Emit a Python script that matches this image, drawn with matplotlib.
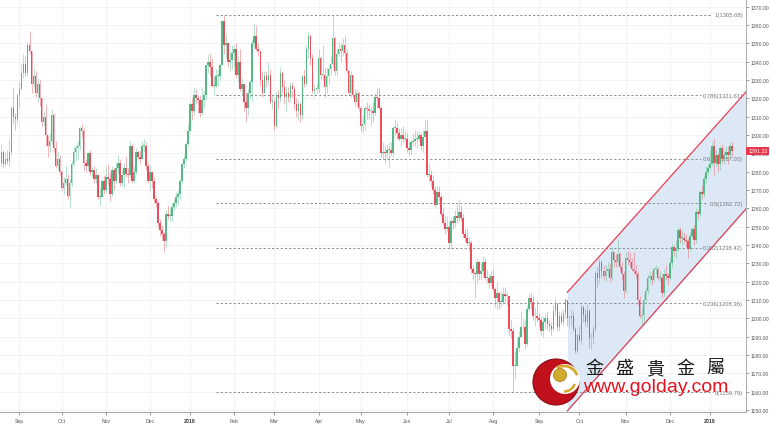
import numpy as np
import pandas as pd
import matplotlib
matplotlib.use("Agg")
import matplotlib.pyplot as plt
from matplotlib.patches import Circle, Arc
from matplotlib.transforms import IdentityTransform


# ============================================================
# Data: daily gold candles, Aug 2017 - Jan 2019
# ============================================================

holidays = ["2017-12-25", "2018-01-01", "2018-12-25", "2019-01-01"]
dates = pd.bdate_range("2017-08-21", "2019-01-17")
dates = dates[~dates.isin(pd.to_datetime(holidays))]

first_open = 1285.0

close = [
    1291, 1284, 1287, 1286, 1291, 1315, 1310, 1309, 1322,
    1325, 1334, 1339, 1334, 1349, 1346, 1328, 1332, 1323, 1328, 1320, 1307, 1310, 1300, 1294, 1297, 1311, 1293, 1283, 1287, 1280,
    1271, 1274, 1276, 1267, 1274, 1284, 1291, 1293, 1294, 1304, 1302, 1285, 1283, 1290, 1280, 1281, 1276, 1278, 1266, 1266, 1275, 1270,
    1277, 1276, 1268, 1281, 1275, 1282, 1285, 1274, 1278, 1282, 1279, 1278, 1294, 1275, 1280, 1291, 1288, 1287, 1294, 1294, 1283, 1275,
    1280, 1275, 1265, 1263, 1252, 1248, 1246, 1242, 1257, 1256, 1256, 1261, 1263, 1266, 1268, 1275, 1284, 1287, 1295, 1302,
    1317, 1313, 1322, 1320, 1319, 1312, 1319, 1322, 1338, 1340, 1337, 1327, 1327, 1332, 1332, 1338, 1362, 1349, 1350, 1340, 1341, 1345,
    1347, 1333, 1340, 1325, 1328, 1318, 1315, 1323, 1329, 1350, 1354, 1347, 1346, 1330, 1323, 1332, 1330, 1333, 1318, 1318,
    1305, 1322, 1320, 1334, 1326, 1321, 1323, 1321, 1327, 1325, 1317, 1313, 1317, 1311, 1332, 1328, 1347, 1354, 1342, 1324, 1325, 1325,
    1342, 1333, 1333, 1326, 1332, 1336, 1339, 1353, 1335, 1344, 1347, 1346, 1349, 1345, 1335, 1323, 1333, 1322, 1318, 1323, 1315,
    1305, 1306, 1315, 1314, 1313, 1313, 1312, 1321, 1320, 1315, 1290, 1291, 1290, 1292, 1292, 1290, 1304, 1304, 1301, 1298, 1300, 1298, 1298,
    1293, 1292, 1296, 1297, 1298, 1298, 1300, 1294, 1299, 1302, 1278, 1278, 1275, 1270, 1262, 1269, 1266, 1257, 1252, 1249, 1250,
    1241, 1253, 1252, 1256, 1255, 1258, 1255, 1246, 1244, 1241, 1241, 1227, 1225, 1224, 1231, 1224, 1226, 1231, 1222, 1222, 1219, 1223,
    1216, 1211, 1214, 1209, 1209, 1213, 1212, 1212, 1194, 1193, 1174, 1174, 1184, 1190, 1195, 1195, 1186, 1205, 1211, 1209, 1201, 1201, 1200,
    1199, 1193, 1198, 1200, 1197, 1196, 1194, 1204, 1208, 1195, 1201, 1198, 1203, 1210, 1200, 1200, 1201, 1194, 1182, 1191,
    1188, 1206, 1202, 1198, 1204, 1189, 1189, 1194, 1225, 1222, 1231, 1226, 1223, 1226, 1227, 1222, 1236, 1232, 1231, 1235, 1228, 1224, 1215,
    1233, 1232, 1231, 1227, 1226, 1224, 1210, 1201, 1202, 1210, 1215, 1222, 1223, 1221, 1227, 1227, 1222, 1222, 1214, 1224, 1223, 1222,
    1230, 1239, 1237, 1238, 1248, 1244, 1244, 1243, 1242, 1238, 1245, 1249, 1243, 1258, 1257, 1269, 1268, 1276, 1280, 1282,
    1284, 1294, 1285, 1289, 1284, 1293, 1287, 1289, 1291, 1289, 1294, 1291.32,
]

high = [
    1295, 1292, 1291, 1292, 1298, 1316, 1326, 1312, 1323,
    1329, 1339, 1344, 1343, 1351, 1357, 1339, 1336, 1335, 1331, 1330, 1320, 1313, 1317, 1300, 1301, 1314, 1312, 1297, 1291, 1289,
    1281, 1277, 1283, 1279, 1276, 1286, 1294, 1295, 1297, 1305, 1306, 1304, 1287, 1291, 1292, 1283, 1283, 1282, 1279, 1271, 1276, 1278,
    1283, 1284, 1280, 1283, 1282, 1285, 1289, 1287, 1281, 1285, 1288, 1282, 1297, 1295, 1283, 1293, 1292, 1292, 1297, 1298, 1296, 1285,
    1283, 1280, 1277, 1267, 1264, 1254, 1251, 1247, 1259, 1262, 1260, 1263, 1265, 1269, 1270, 1276, 1285, 1289, 1296, 1306,
    1318, 1320, 1326, 1325, 1322, 1322, 1326, 1324, 1338, 1344, 1345, 1342, 1333, 1336, 1336, 1339, 1363, 1365.68, 1355, 1351, 1346, 1349,
    1349, 1350, 1343, 1347, 1331, 1328, 1323, 1325, 1330, 1352, 1361, 1360, 1350, 1346, 1335, 1335, 1335, 1340, 1336, 1322,
    1320, 1324, 1325, 1337, 1335, 1330, 1327, 1326, 1329, 1329, 1327, 1320, 1319, 1318, 1333, 1336, 1349, 1356, 1355, 1344, 1328, 1328,
    1347, 1343, 1349, 1337, 1337, 1338, 1343, 1365, 1354, 1347, 1351, 1350, 1353, 1354, 1347, 1336, 1335, 1333, 1325, 1325, 1324,
    1316, 1311, 1316, 1318, 1317, 1316, 1318, 1323, 1325, 1326, 1316, 1296, 1294, 1295, 1296, 1296, 1305, 1309, 1307, 1304, 1304, 1305, 1302,
    1301, 1297, 1298, 1301, 1303, 1302, 1302, 1301, 1303, 1309, 1308, 1284, 1281, 1278, 1272, 1272, 1272, 1268, 1261, 1256, 1256,
    1253, 1255, 1256, 1259, 1262, 1265, 1262, 1257, 1249, 1249, 1245, 1243, 1229, 1226, 1233, 1232, 1230, 1234, 1233, 1227, 1224, 1226,
    1227, 1217, 1220, 1215, 1215, 1217, 1217, 1215, 1211, 1199, 1195, 1182, 1189, 1193, 1204, 1200, 1199, 1207, 1214, 1214, 1212, 1206, 1210,
    1203, 1201, 1201, 1203, 1204, 1199, 1198, 1207, 1211, 1209, 1204, 1204, 1205, 1211, 1210, 1202, 1205, 1204, 1195, 1192,
    1196, 1208, 1207, 1205, 1208, 1205, 1192, 1196, 1226, 1228, 1233, 1232, 1229, 1229, 1231, 1230, 1239, 1237, 1235, 1243, 1236, 1231, 1226,
    1236, 1237, 1236, 1233, 1236, 1229, 1226, 1212, 1206, 1213, 1217, 1224, 1226, 1226, 1228, 1229, 1228, 1226, 1224, 1227, 1229, 1225,
    1233, 1241, 1240, 1243, 1250, 1250, 1248, 1247, 1246, 1244, 1247, 1250, 1251, 1260, 1259, 1270, 1273, 1278, 1283, 1285,
    1292, 1296, 1298, 1292, 1290, 1294, 1295, 1292, 1294, 1294, 1296, 1296,
]

low = [
    1283, 1282, 1283, 1284, 1283, 1289, 1306, 1303, 1306,
    1315, 1325, 1331, 1332, 1332, 1344, 1323, 1326, 1321, 1318, 1316, 1305, 1305, 1294, 1288, 1291, 1295, 1291, 1282, 1281, 1278,
    1270, 1268, 1273, 1265, 1261, 1272, 1283, 1286, 1287, 1292, 1299, 1281, 1280, 1281, 1278, 1277, 1274, 1274, 1265, 1262, 1266, 1268,
    1269, 1273, 1264, 1267, 1270, 1274, 1279, 1272, 1272, 1271, 1277, 1274, 1277, 1274, 1274, 1279, 1287, 1284, 1287, 1291, 1281, 1274,
    1270, 1271, 1263, 1261, 1250, 1245, 1243, 1236, 1239, 1254, 1253, 1253, 1259, 1261, 1262, 1265, 1274, 1282, 1286, 1294,
    1302, 1308, 1311, 1317, 1312, 1310, 1311, 1315, 1319, 1334, 1332, 1326, 1322, 1326, 1327, 1330, 1338, 1344, 1342, 1337, 1335, 1336,
    1337, 1331, 1329, 1324, 1322, 1313, 1307, 1311, 1320, 1318, 1348, 1346, 1343, 1327, 1321, 1323, 1326, 1328, 1317, 1314,
    1303, 1304, 1314, 1318, 1323, 1317, 1313, 1318, 1318, 1321, 1314, 1310, 1308, 1307, 1309, 1326, 1327, 1342, 1338, 1323, 1321, 1323,
    1323, 1330, 1330, 1321, 1323, 1328, 1333, 1337, 1333, 1332, 1343, 1340, 1343, 1340, 1334, 1322, 1321, 1320, 1316, 1316, 1313,
    1302, 1301, 1303, 1309, 1309, 1305, 1307, 1311, 1315, 1314, 1288, 1287, 1285, 1287, 1282, 1289, 1288, 1300, 1298, 1297, 1294, 1296, 1296,
    1291, 1289, 1289, 1294, 1294, 1293, 1296, 1292, 1291, 1299, 1277, 1274, 1272, 1268, 1261, 1265, 1264, 1256, 1251, 1246, 1247,
    1238, 1238, 1249, 1250, 1252, 1253, 1253, 1244, 1242, 1240, 1237, 1225, 1221, 1211, 1219, 1221, 1221, 1223, 1221, 1219, 1217, 1218,
    1215, 1206, 1205, 1205, 1206, 1208, 1209, 1207, 1191, 1189, 1159.79, 1167, 1174, 1182, 1190, 1193, 1183, 1185, 1204, 1205, 1199, 1196, 1198,
    1195, 1191, 1190, 1194, 1194, 1193, 1191, 1193, 1201, 1193, 1193, 1197, 1196, 1200, 1196, 1195, 1196, 1193, 1181, 1181,
    1187, 1186, 1198, 1196, 1195, 1184, 1183, 1186, 1193, 1217, 1219, 1222, 1221, 1220, 1223, 1220, 1221, 1228, 1228, 1229, 1226, 1221, 1211,
    1214, 1229, 1228, 1226, 1224, 1222, 1207, 1200, 1196, 1198, 1208, 1213, 1219, 1218, 1220, 1224, 1221, 1220, 1211, 1212, 1221, 1218,
    1221, 1228, 1234, 1233, 1237, 1241, 1240, 1241, 1239, 1233, 1236, 1244, 1240, 1241, 1254, 1256, 1265, 1266, 1274, 1278,
    1281, 1283, 1278, 1283, 1280, 1281, 1285, 1284, 1287, 1284, 1287, 1288,
]

# Fibonacci retracement (levels and prices as labelled on the chart)
fib_levels = ["0", "0.236", "0.382", "0.5", "0.618", "0.786", "1"]
fib_prices = [1159.79, 1208.36, 1238.42, 1262.72, 1287.03, 1321.61, 1365.68]
fib_start_date = "2018-01-19"

# Rising channel: prices at the start bar and at the right edge
channel_start_date = "2018-09-21"
channel_upper = [1214.2, 1323.5]
channel_lower = [1149.5, 1259.7]

last_price = 1291.32


# ============================================================
# Figure
# ============================================================

W, H = 770, 435
fig = plt.figure(figsize=(W / 100, H / 100), dpi=100)
ax = fig.add_axes([0, 22 / H, 746 / W, 413 / H])

n = len(close)
assert n == len(dates) == len(high) == len(low)
x = np.arange(n)
c = np.array(close, dtype=float)
o = np.concatenate([[first_open], c[:-1]])
h = np.maximum(np.array(high, dtype=float), np.maximum(o, c))
l = np.minimum(np.array(low, dtype=float), np.minimum(o, c))

x_left, x_right = -0.7, 371.0
ax.set_xlim(x_left, x_right)
ax.set_ylim(1148.9, 1374.2)

up_col = "#53b987"
dn_col = "#eb4d5c"
up = c >= o
cols = np.where(up, up_col, dn_col)

# channel
i0 = int(np.where(dates == pd.Timestamp(channel_start_date))[0][0])
ax.fill_between([i0, x_right], channel_lower, channel_upper,
                color="#dce8f5", lw=0, zorder=1)
ax.plot([i0, x_right], channel_upper, color="#e23c52", lw=0.9, zorder=4)
ax.plot([i0, x_right], channel_lower, color="#e23c52", lw=0.9, zorder=4)

# candles
ax.vlines(x, l, h, colors=cols, lw=0.6, alpha=0.5, zorder=3)
body = np.maximum(np.abs(c - o), 0.5)
ax.bar(x, body, bottom=np.minimum(o, c), width=0.8, color=cols,
       lw=0, zorder=3)

# axes styling
yt = np.arange(1150, 1371, 10)
ax.set_yticks(yt)
ax.set_yticklabels([f"{v:.2f}" for v in yt])
ax.yaxis.tick_right()

month_idx = [i for i in range(1, n) if dates[i].month != dates[i - 1].month]
month_lab = [str(dates[i].year) if dates[i].month == 1 else dates[i].strftime("%b")
             for i in month_idx]
ax.set_xticks(month_idx)
ax.set_xticklabels(month_lab)

ax.tick_params(axis="y", labelsize=3.7, colors="#777777", length=2, width=0.5, pad=1.2)
ax.tick_params(axis="x", labelsize=3.7, colors="#777777", length=2, width=0.5, pad=2.5)
for lab in ax.get_yticklabels() + ax.get_xticklabels():
    lab.set_fontfamily("Liberation Sans")
    lab.set_color("#555555")
for lab in ax.get_xticklabels():
    if lab.get_text().startswith("20"):
        lab.set_fontweight("bold")
        lab.set_color("#333333")

ax.grid(True, color="#f1f1f1", lw=0.6)
ax.set_axisbelow(True)
for side in ["top", "left"]:
    ax.spines[side].set_visible(False)
for side in ["right", "bottom"]:
    ax.spines[side].set_color("#9a9a9a")
    ax.spines[side].set_linewidth(0.6)

# last price tag
ax.annotate(f"{last_price:.2f}", xy=(1.003, last_price),
            xycoords=("axes fraction", "data"),
            ha="left", va="center", fontsize=3.8, color="white",
            family="Liberation Sans", annotation_clip=False, zorder=10,
            bbox=dict(boxstyle="square,pad=0.35", fc="#e8374a", ec="none"))

# fibonacci labels + dashed lines
fx0 = int(np.where(dates == pd.Timestamp(fib_start_date))[0][0])
fib_texts = []
for lvl, p in zip(fib_levels, fib_prices):
    t = ax.text(0.996, p, f"{lvl}({p:.2f})", transform=ax.get_yaxis_transform(),
                ha="right", va="center", fontsize=4.2, color="#777777",
                family="Liberation Sans", zorder=2)
    fib_texts.append(t)

fig.canvas.draw()
inv = ax.transData.inverted()
for t, p in zip(fib_texts, fib_prices):
    bb = t.get_window_extent()
    x_end = inv.transform((bb.x0 - 2, 0))[0]
    ax.plot([fx0, x_end], [p, p], color="#8c8c8c", lw=0.7,
            ls=(0, (2.2, 2.2)), zorder=2)

# ============================================================
# Watermark logo
# ============================================================

def px(xp, yp):
    return xp, H - yp

idt = IdentityTransform()
fig.add_artist(Circle(px(556, 383), 23, transform=idt, fc="#c0101c", ec="#8e0a12", lw=0.8, zorder=20))
fig.add_artist(Circle(px(565, 380), 15, transform=idt, fc="white", ec="none", zorder=21))
fig.add_artist(Arc(px(564, 381), 28, 28, theta1=20, theta2=120, transform=idt,
                   color="#d4a72c", lw=2.0, zorder=22))
fig.add_artist(Arc(px(564, 381), 23, 23, theta1=270, theta2=340, transform=idt,
                   color="#d4a72c", lw=1.8, zorder=22))
fig.add_artist(Circle(px(560, 376), 6.5, transform=idt, fc="#d2ab2e", ec="#a9831a", lw=0.6, zorder=23))

for ch, cx in zip("金盛貴金屬", [594, 624, 655, 685, 715]):
    fig.text(cx / W, 1 - 369 / H, ch, ha="center", va="center", fontsize=13,
             color="#1a1a1a", family=["Noto Sans CJK TC", "DejaVu Sans"], zorder=24)

fig.text(583 / W, 1 - 388 / H, "www.golday.com", ha="left", va="center",
         fontsize=14, color="#e3141f", family="Liberation Sans", zorder=24)

fig.savefig("out.png", dpi=100)
